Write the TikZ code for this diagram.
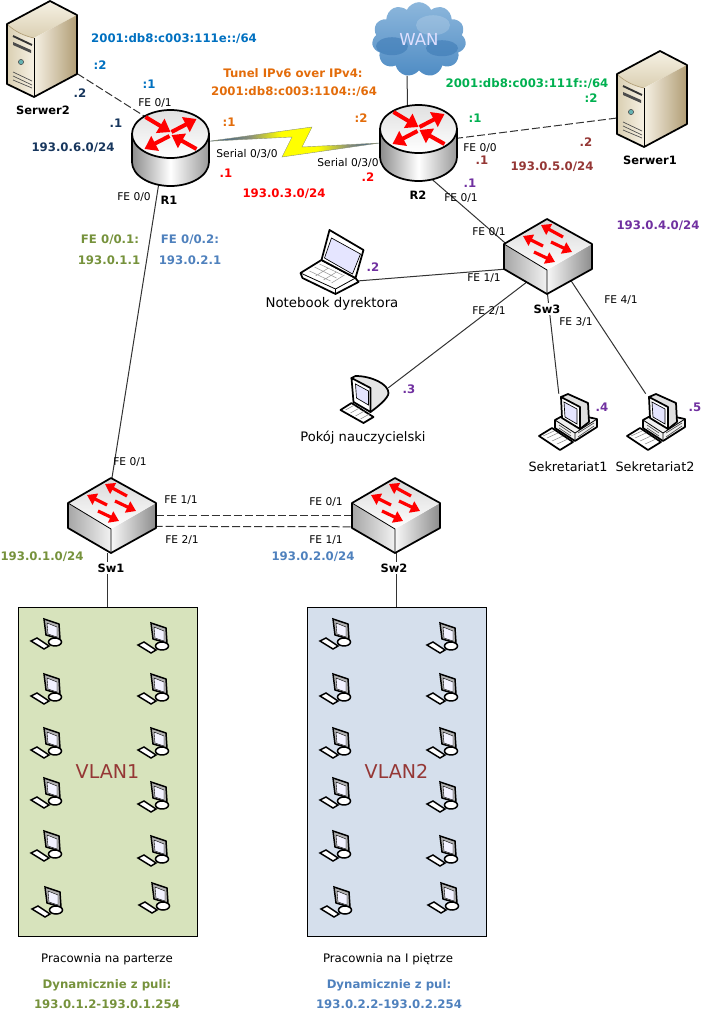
\documentclass[tikz,border=0pt]{standalone}
\usepackage{fontspec}
\setmainfont{DejaVu Sans}
\usetikzlibrary{arrows.meta,shapes.geometric,shapes.symbols}

\definecolor{cblue}{HTML}{0070C0}
\definecolor{cnavy}{HTML}{17365D}
\definecolor{corange}{HTML}{E36C0A}
\definecolor{cgreen}{HTML}{00B050}
\definecolor{cbrown}{HTML}{953735}
\definecolor{cpurple}{HTML}{7030A0}
\definecolor{colive}{HTML}{76923C}
\definecolor{csteel}{HTML}{4F81BD}
\definecolor{boltblue}{HTML}{1F4E8C}
\definecolor{boltgrey}{HTML}{8A9078}
\definecolor{vlanA}{HTML}{D7E3BC}
\definecolor{vlanB}{HTML}{D5DFEC}
\definecolor{srvlight}{HTML}{F6F1E4}
\definecolor{srvmid}{HTML}{DACFB2}
\definecolor{srvdark}{HTML}{B09C74}
\definecolor{wanhi}{HTML}{8DB7DC}
\definecolor{wanlo}{HTML}{4F8CC4}
\definecolor{wandk}{HTML}{3A78B4}
\pgfdeclarehorizontalshading{boltshade}{100bp}{color(0bp)=(boltblue); color(25bp)=(boltblue); color(37bp)=(boltgrey); color(46bp)=(yellow); color(57bp)=(yellow); color(66bp)=(boltgrey); color(75bp)=(boltblue); color(100bp)=(boltblue)}

\tikzset{
  wire/.style={line width=0.75pt,black!80},
  dashwire/.style={line width=0.75pt,black!80,dash pattern=on 6pt off 2.3pt},
  iconline/.style={line width=1.3pt,line join=round},
  routerarrow/.style={draw=red,line width=3pt,-{Triangle[length=9pt,width=12pt]}},
  switcharrow/.style={draw=red,line width=2.4pt,-{Triangle[length=7pt,width=9pt]}},
  %--- boites invisibles des appareils ---
  iconbox/.style={rectangle,inner sep=0pt},
  routerbox/.style={ellipse,inner sep=0pt,minimum width=57.75pt,minimum height=57pt},
  switchbox/.style={diamond,inner sep=0pt,minimum width=66pt,minimum height=56.25pt},
  vlanbox/.style={draw=black,line width=0.75pt,inner sep=0pt,minimum width=134.25pt,minimum height=246.75pt,text=cbrown,font=\fontsize{14.3}{17}\selectfont},
  %--- textes ---
  port/.style={inner sep=0pt,font=\fontsize{8}{9}\selectfont},
  host/.style={inner sep=0pt,font=\fontsize{9.6}{11}\selectfont},
  room/.style={inner sep=0pt,font=\fontsize{8.8}{11}\selectfont},
  devname/.style={inner sep=0pt,font=\fontsize{8.6}{11}\selectfont\bfseries},
  addr/.style={inner sep=0pt,font=\fontsize{8.8}{11}\selectfont\bfseries},
  %--- icones ---
  router/.pic={
    \shade[left color=black!45,right color=black!40,middle color=white]
      (-38.5,0) -- (-38.5,28) .. controls (-38.5,41.25) and (-21.3,52) .. (0,52)
      .. controls (21.3,52) and (38.5,41.25) .. (38.5,28) -- (38.5,0) -- cycle;
    \draw[iconline] (-38.5,0) -- (-38.5,28) .. controls (-38.5,41.25) and (-21.3,52) .. (0,52)
      .. controls (21.3,52) and (38.5,41.25) .. (38.5,28) -- (38.5,0);
    \draw[iconline,top color=black!12,bottom color=white] (0,0) ellipse [x radius=38.5,y radius=24];
    \draw[routerarrow] (-25,-17) -- (0,-2);
    \draw[routerarrow] (1,-2) -- (26,-15);
    \draw[routerarrow] (26,15) -- (1,1);
    \draw[routerarrow] (-1,2) -- (-26,15);
  },
  switchdev/.pic={
    \shade[left color=black!35,right color=black!5] (-43,0) -- (0,26) -- (0,50) -- (-43,25) -- cycle;
    \shade[left color=black!3,right color=black!45] (0,26) -- (45,0) -- (45,25) -- (0,50) -- cycle;
    \shade[top color=black!15,bottom color=white] (-43,0) -- (0,-25) -- (45,0) -- (0,26) -- cycle;
    \draw[line width=0.6pt] (-43,0) -- (0,26) -- (0,50);
    \draw[iconline] (-43,0) -- (0,-25) -- (45,0) -- (45,25) -- (0,50) -- (-43,25) -- cycle;
    \draw[switcharrow] (16,-7) -- (-6,-19);
    \draw[switcharrow] (-4,2) -- (-24,-8);
    \draw[switcharrow] (4,-2) -- (25,8);
    \draw[switcharrow] (-13,8) -- (8,18);
  },
  server/.pic={
    \shade[top color=srvlight,bottom color=srvmid] (-35,-26) -- (8,-49) -- (35,-35) -- (-8,-12) .. controls (-18,-14) and (-28,-19) .. cycle;
    \shade[left color=srvlight,right color=srvdark] (-8,-12) -- (35,-35) -- (35,24) -- (-8,47) -- cycle;
    \shade[left color=srvmid,right color=srvlight] (-35,-26) .. controls (-28,-19) and (-18,-14) .. (-8,-12) -- (-8,47) -- (-35,34) -- cycle;
    \draw[line width=0.5pt,srvdark] (-35,-26) .. controls (-28,-19) and (-18,-14) .. (-8,-12);
    \draw[line width=0.6pt] (-8,-12) -- (-8,47);
    \draw[iconline] (-35,-26) -- (8,-49) -- (35,-35) -- (35,24) -- (-8,47) -- (-35,34) -- cycle;
    \draw[line width=1.4pt,black!80] (-29,-14) -- (-10,-5);
    \fill[black!70] (-29,-8) -- (-11,0) -- (-11,3) -- (-29,-5) -- cycle;
    \draw[black!70,fill=teal!60] (-21,12) circle (2.6);
    \draw[line width=0.5pt,black!70] (-29,22) -- (-10,31) (-29,26) -- (-10,35) (-29,30) -- (-10,38);
  },
  desktop/.pic={
    \draw[iconline,fill=black!6] (-13,-2) -- (0,-9) -- (29,-3) -- (29,5) -- (7,19) -- (-13,6) -- cycle;
    \draw[line width=0.6pt] (-13,-2) -- (7,11) -- (29,-3) (7,11) -- (7,19);
    \draw[line width=0.5pt,black!70] (-9,3) -- (3,11) (-9,6) -- (3,14) (10,11) -- (26,1) (10,15) -- (26,4);
    \draw[iconline,fill=black!12] (-7,-25) -- (0,-28) -- (20,-19) -- (21,0) -- (12,7) -- cycle;
    \draw[iconline,fill=white] (-7,-25) -- (12,-15) -- (12,7) -- (-6,-4) -- cycle;
    \fill[blue!10,draw=black,line width=0.5pt] (-4,-20) -- (9,-13) -- (9,2) -- (-3,-5) -- cycle;
    \draw[iconline,fill=white] (-29,14) -- (-16,6) -- (5,20) -- (-8,28) -- cycle;
    \draw[line width=0.4pt,black!45] (-25,14) -- (-14,9) (-21,16) -- (-10,11) (-16,19) -- (-5,14) (-11,22) -- (0,17);
  },
  crt/.pic={
    \draw[iconline,fill=black!10] (-12,-23) -- (-8,-25) .. controls (8,-25) and (25,-17) .. (25,-8) .. controls (25,-3) and (14,6) .. (7,11) -- cycle;
    \draw[iconline,fill=white] (-12,-23) -- (7,-13) -- (7,11) -- (-10,1) -- cycle;
    \fill[blue!10,draw=black,line width=0.5pt] (-8,-17) -- (5,-10) -- (5,4) -- (-7,-3) -- cycle;
    \draw[iconline,fill=white] (-23,9) -- (-12,2) -- (10,16) -- (0,22) -- cycle;
    \draw[line width=0.4pt,black!45] (-18,9) -- (-9,4) (-13,12) -- (-4,7) (-8,15) -- (1,10) (-3,18) -- (6,13);
  },
  laptop/.pic={
    \draw[iconline,fill=white] (-28,10) -- (-26,15) -- (7,31) -- (30,19) -- (27,15) -- (-7,-3) -- cycle;
    \draw[line width=0.6pt] (-28,10) -- (7,26) -- (27,15) (7,26) -- (7,31);
    \draw[line width=0.4pt,black!40] (-19,8) -- (2,18) (-14,4) -- (8,15) (-9,1) -- (14,12) (-13,13) -- (0,5) (-5,17) -- (8,9) (3,20) -- (16,12);
    \draw[iconline,fill=white] (1,-33) -- (35,-13) -- (27,15) -- (-7,-3) -- cycle;
    \fill[blue!10,draw=black,line width=0.5pt] (3,-25) -- (32,-9) -- (24,11) -- (-4,-5) -- cycle;
  },
  smallpc/.pic={
    \draw[line width=1.1pt,fill=white] (6,8) ellipse [x radius=6.5,y radius=4];
    \draw[line width=1.1pt,fill=black!30] (-5,-15) -- (10,-10) -- (11,5) -- (-3,1) -- cycle;
    \fill[blue!5,draw=black,line width=0.3pt] (-2,-11) -- (8,-7) -- (8,3) -- (-1,0) -- cycle;
    \draw[line width=1.1pt,fill=white] (-18,7) -- (-12,4) -- (0,12) -- (-5,15) -- cycle;
  }
}

\begin{document}
\begin{tikzpicture}[x=0.75pt,y=-0.75pt]

  \useasboundingbox (0,0) rectangle (702,1014);

  %--- Appareils (boites invisibles) ---
  \node[iconbox,minimum width=52.5pt,minimum height=72pt] (Serwer2) at (42,49) {};
  \node[iconbox,minimum width=52.5pt,minimum height=72pt] (Serwer1) at (652,98.5) {};
  \node[routerbox] (R1) at (170.5,148) {};
  \node[routerbox] (R2) at (418.5,143) {};
  \node[switchbox] (Sw1) at (112,515.5) {};
  \node[switchbox] (Sw2) at (395,515.5) {};
  \node[switchbox] (Sw3) at (547.5,256.5) {};
  \node[iconbox,minimum width=42.75pt,minimum height=46.5pt] (Notebook) at (328.5,263) {};
  \node[iconbox,minimum width=36.75pt,minimum height=36pt] (Pokoj) at (363.5,401) {};
  \node[iconbox,minimum width=45pt,minimum height=42pt] (Sek1) at (568,422) {};
  \node[iconbox,minimum width=45pt,minimum height=42pt] (Sek2) at (656,422) {};

  %--- Chmura WAN ---
  \node[cloud,cloud puffs=11,cloud puff arc=130,aspect=1.25,inner sep=0pt,
        minimum width=70.5pt,minimum height=56pt,
        top color=wanhi,bottom color=wanlo,
        text=white!88!blue,font=\fontsize{12.4}{14}\selectfont,
        path picture={
          \fill[wandk,opacity=0.55] ([shift={(-27,7)}]path picture bounding box.center) ellipse [x radius=16,y radius=9];
          \fill[wandk,opacity=0.55] ([shift={(23,9)}]path picture bounding box.center) ellipse [x radius=16,y radius=8];
          \fill[white,opacity=0.18] ([shift={(14,-14)}]path picture bounding box.center) ellipse [x radius=17,y radius=10];
        }] (WAN) at (419,39.5) {WAN};

  %--- Sale VLAN ---
  \node[vlanbox,fill=vlanA] (VLAN1) at (107.5,771.5) {VLAN1};
  \node[vlanbox,fill=vlanB] (VLAN2) at (396.5,771.5) {VLAN2};

  %--- Polaczenia ---
  \draw[dashwire] (Serwer2.-35) -- (R1.128);
  \draw[dashwire] (Serwer1.209) -- (R2.7);
  \draw[wire] (WAN.252) -- (R2.107);
  \draw[wire] (R1.252) -- (Sw1.north);
  \draw[wire] (R2.-70) -- (Sw3.168);
  \draw[wire] (Notebook.-32) -- (Sw3.201);
  \draw[wire] (Pokoj.28) -- (Sw3.233);
  \draw[wire] (Sek1.108) -- (Sw3.south);
  \draw[wire] (Sek2.110) -- (Sw3.-44);
  \draw[dashwire] (Sw1.east) -- (Sw2.west);
  \draw[dashwire] (Sw1.-19.5) -- (Sw2.-160.5);
  \draw[wire] (VLAN1.north) -- (VLAN1.north |- Sw1.south);
  \draw[wire] (VLAN2.north) -- (VLAN2.north |- Sw2.south);

  %--- Lacze szeregowe ---
  \shadedraw[shading=boltshade,draw=boltgrey,line width=0.3pt] (R1.10) -- (312,127) -- (302,147) -- (R2.west) -- (282,157) -- (292,137) -- cycle;

  %--- Ikony ---
  \pic at (42,50) {server};
  \pic at (652,100) {server};
  \pic at (170.5,134) {router};
  \pic at (418.5,129) {router};
  \pic at (111,503) {switchdev};
  \pic at (395,503) {switchdev};
  \pic at (547,244) {switchdev};
  \pic at (328.5,263) {laptop};
  \pic at (363.5,401) {crt};
  \pic at (568,422) {desktop};
  \pic at (656,422) {desktop};

  \foreach \xa/\ya in {49/634,49/689,49/743,49/793,49/846,50/902,
                       156/638,156/689,156/743,156/797,156/851,157/898}{
    \pic at (\xa,\ya) {smallpc};
    \pic at (\xa+289,\ya) {smallpc};
  }

  %--- Nazwy urzadzen ---
  \node[devname] (nSerwer2) at (43,110) {Serwer2};
  \node[devname] (nSerwer1) at (650,160) {Serwer1};
  \node[devname] (nR1) at (169,200) {R1};
  \node[devname] (nR2) at (418,195) {R2};
  \node[devname,fill=white,inner sep=1pt] (nSw1) at (111,568) {Sw1};
  \node[devname,fill=white,inner sep=1pt] (nSw2) at (394,568) {Sw2};
  \node[devname,fill=white,inner sep=1pt] (nSw3) at (547,309) {Sw3};
  \node[host,font=\fontsize{10}{11}\selectfont] (nNotebook) at (332,304) {Notebook dyrektora};
  \node[host,font=\fontsize{9.8}{11}\selectfont] (nPokoj) at (363,438) {Pokój nauczycielski};
  \node[host] (nSek1) at (568,467) {Sekretariat1};
  \node[host] (nSek2) at (655,467) {Sekretariat2};

  %--- Porty ---
  \node[port] (pR1a) at (155,103) {FE 0/1};
  \node[port] (pR1b) at (134,197) {FE 0/0};
  \node[port] (pR1c) at (247,154) {Serial 0/3/0};
  \node[port] (pR2c) at (348,163) {Serial 0/3/0};
  \node[port] (pR2a) at (480,148) {FE 0/0};
  \node[port] (pR2b) at (461,198) {FE 0/1};
  \node[port] (pS3a) at (489,232) {FE 0/1};
  \node[port] (pS3b) at (484,278) {FE 1/1};
  \node[port] (pS3c) at (489,311) {FE 2/1};
  \node[port] (pS3d) at (576,322) {FE 3/1};
  \node[port] (pS3e) at (621,300) {FE 4/1};
  \node[port] (pS1a) at (130,462) {FE 0/1};
  \node[port] (pS1b) at (181,500) {FE 1/1};
  \node[port] (pS1c) at (182,540) {FE 2/1};
  \node[port] (pS2a) at (326,502) {FE 0/1};
  \node[port] (pS2b) at (326,540) {FE 1/1};

  %--- Adresy ---
  \node[addr,text=cblue] (v6a) at (174,39) {2001:db8:c003:111e::/64};
  \node[addr,text=cblue] (v6a2) at (100,65) {:2};
  \node[addr,text=cblue] (v6a1) at (149,84) {:1};
  \node[addr,text=cnavy] (n6b) at (80,93) {.2};
  \node[addr,text=cnavy] (n6a) at (116,123) {.1};
  \node[addr,text=cnavy] (n6) at (73,148) {193.0.6.0/24};
  \node[addr,text=corange] (tun) at (293,73) {Tunel IPv6 over IPv4:};
  \node[addr,text=corange] (tunnet) at (294,92) {2001:db8:c003:1104::/64};
  \node[addr,text=corange] (tun1) at (229,122) {:1};
  \node[addr,text=corange] (tun2) at (361,118) {:2};
  \node[addr,text=red] (n3a) at (226,173) {.1};
  \node[addr,text=red] (n3b) at (368,177) {.2};
  \node[addr,text=red] (n3) at (284,194) {193.0.3.0/24};
  \node[addr,text=cgreen] (v6b) at (527,84) {2001:db8:c003:111f::/64};
  \node[addr,text=cgreen] (v6b1) at (475,118) {:1};
  \node[addr,text=cgreen] (v6b2) at (591,98) {:2};
  \node[addr,text=cbrown] (n5a) at (482,160) {.1};
  \node[addr,text=cbrown] (n5b) at (586,142) {.2};
  \node[addr,text=cbrown] (n5) at (552,167) {193.0.5.0/24};
  \node[addr,text=cpurple] (n4a) at (470,183) {.1};
  \node[addr,text=cpurple] (n4) at (658,226) {193.0.4.0/24};
  \node[addr,text=cpurple] (n4b) at (373,267) {.2};
  \node[addr,text=cpurple] (n4c) at (409,389) {.3};
  \node[addr,text=cpurple] (n4d) at (602,407) {.4};
  \node[addr,text=cpurple] (n4e) at (695,407) {.5};
  \node[addr,text=colive] (gwA) at (110,240) {FE 0/0.1:};
  \node[addr,text=colive] (gwAip) at (109,260) {193.0.1.1};
  \node[addr,text=csteel] (gwB) at (190,240) {FE 0/0.2:};
  \node[addr,text=csteel] (gwBip) at (190,260) {193.0.2.1};
  \node[addr,text=colive] (n1) at (42,557) {193.0.1.0/24};
  \node[addr,text=csteel] (n2) at (313,557) {193.0.2.0/24};

  %--- Opisy pracowni ---
  \node[room] (room1) at (107,959) {Pracownia na parterze};
  \node[room] (room2) at (388,959) {Pracownia na I piętrze};
  \node[addr,text=colive] (dyn1) at (107,985) {Dynamicznie z puli:};
  \node[addr,text=colive] (pool1) at (107,1004) {193.0.1.2-193.0.1.254};
  \node[addr,text=csteel] (dyn2) at (389,985) {Dynamicznie z pul:};
  \node[addr,text=csteel] (pool2) at (389,1004) {193.0.2.2-193.0.2.254};

\end{tikzpicture}
\end{document}
